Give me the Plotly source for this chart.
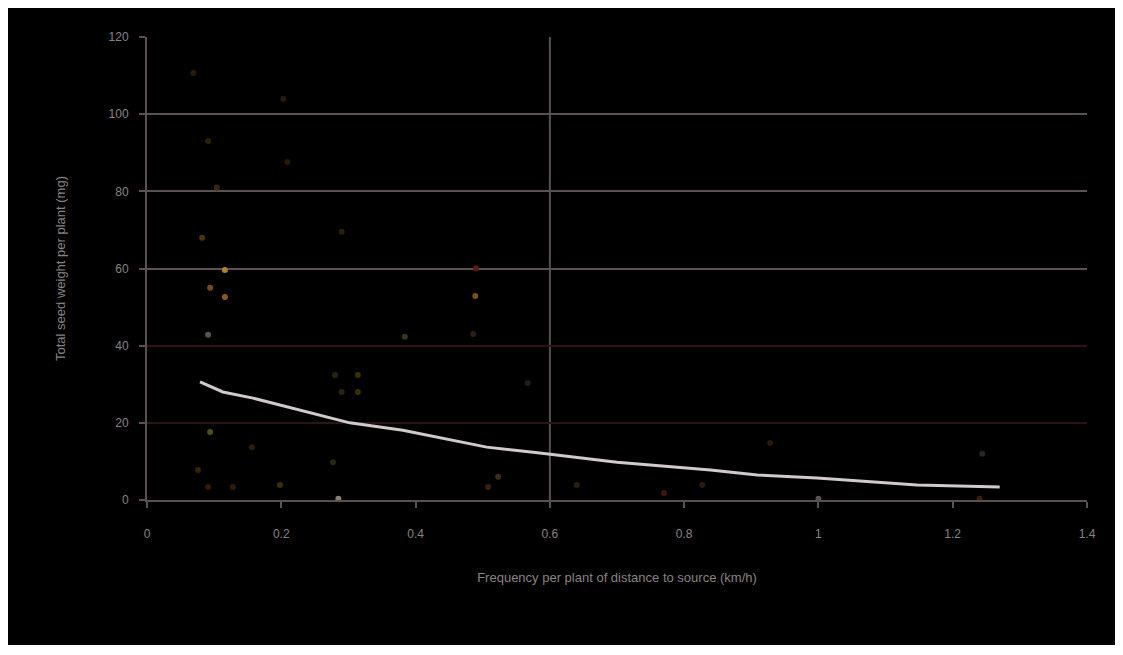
import plotly.graph_objects as go

# Fitted curve
curve_x = [0.079, 0.113, 0.158, 0.209, 0.258, 0.302, 0.381, 0.441, 0.506, 0.585,
           0.700, 0.839, 0.909, 0.998, 1.147, 1.270]
curve_y = [30.6, 28.0, 26.4, 24.1, 22.0, 20.0, 18.1, 16.0, 13.7, 12.2,
           9.8, 7.8, 6.5, 5.7, 3.9, 3.4]

# Observed points
pts_x = [0.069, 0.203, 0.091, 0.209, 0.104, 0.082, 0.290, 0.116, 0.094, 0.116,
         0.489, 0.490, 0.091, 0.384, 0.486, 0.280, 0.314, 0.290, 0.314, 0.567,
         0.094, 0.156, 0.076, 0.277, 0.198, 0.523, 0.508, 0.091, 0.128, 0.285,
         0.928, 1.244, 0.640, 0.827, 0.770, 1.000, 1.240]
pts_y = [110.7, 104.0, 93.0, 87.6, 81.0, 68.0, 69.5, 59.6, 55.0, 52.6,
         52.9, 60.0, 42.8, 42.3, 43.0, 32.4, 32.4, 28.0, 28.0, 30.3,
         17.6, 13.7, 7.8, 9.8, 3.9, 6.0, 3.4, 3.4, 3.4, 0.3,
         14.8, 12.0, 3.9, 3.9, 1.8, 0.3, 0.3]
pts_color = ["#2a1a08", "#2a1808", "#2a1e08", "#2a1808", "#3a2610", "#4a3410", "#2a1e08",
             "#b08030", "#7a4818", "#8a5820", "#7a5018", "#5a1a10", "#5a5244", "#3a3418",
             "#2a2018", "#2a2408", "#3a2e08", "#2a2408", "#3a2e08", "#2a1818",
             "#4a5018", "#2a1e08", "#3a2008", "#2a2418", "#3a2e08", "#3a2e18", "#3a2008",
             "#3a1808", "#3a1808", "#8a8070", "#2a1808", "#2a2424", "#2a1e08", "#2a1e08",
             "#3a1808", "#5a5252", "#3a2008"]

ref_x = 0.6

x_ticks = [0, 0.2, 0.4, 0.6, 0.8, 1, 1.2, 1.4]
x_labels = ["0", "0.2", "0.4", "0.6", "0.8", "1", "1.2", "1.4"]
y_ticks = [0, 20, 40, 60, 80, 100, 120]
y_labels = ["0", "20", "40", "60", "80", "100", "120"]
y_dark_grid = [20, 40]

FONT = "Liberation Sans, Arial, sans-serif"
TXT = "#8a8282"
AX = "#5a5050"

L, R, T, B = 139, 44, 29, 163
W, H = 1123, 655
PW, PH = W - L - R, H - T - B

fig = go.Figure()

# black background inside white border (drawn first)
fig.add_shape(type="rect", xref="paper", yref="paper",
              x0=-L / PW, x1=(1110 - L) / PW,
              y0=-(637 - (H - B)) / PH, y1=(H - B) / PH,
              fillcolor="#000000", line=dict(width=0), layer="below")
fig.add_vline(x=ref_x, line=dict(color=AX, width=2), layer="below")

# dummy trace so the primary y axis (gray grid, labels) is drawn
fig.add_trace(go.Scatter(x=[None], y=[None], mode="markers",
                         showlegend=False, hoverinfo="skip", yaxis="y"))
fig.add_trace(go.Scatter(
    x=pts_x, y=pts_y, mode="markers",
    marker=dict(size=6, color=pts_color, line=dict(width=0)),
    showlegend=False, hoverinfo="skip", yaxis="y2"))
fig.add_trace(go.Scatter(
    x=curve_x, y=curve_y, mode="lines",
    line=dict(color="#d0caca", width=3),
    showlegend=False, hoverinfo="skip", yaxis="y2"))

fig.update_layout(
    width=W, height=H,
    margin=dict(l=L, r=R, t=T, b=B),
    paper_bgcolor="#ffffff", plot_bgcolor="#000000",
    font=dict(family=FONT, color=TXT, size=12),
    xaxis=dict(range=[0, 1.4], tickvals=x_ticks, ticktext=x_labels,
               showgrid=False, zeroline=False,
               showline=True, linecolor=AX, linewidth=2,
               ticks="outside", ticklen=6, tickcolor=AX, tickwidth=2,
               ticklabelstandoff=16,
               tickfont=dict(size=12, color=TXT),
               title=dict(text="Frequency per plant of distance to source (km/h)",
                          font=dict(size=13, color=TXT), standoff=32)),
    yaxis=dict(range=[0, 120], tickvals=y_ticks, ticktext=y_labels,
               showgrid=True, gridcolor="#5a5252", gridwidth=2,
               zeroline=False,
               showline=True, linecolor=AX, linewidth=2,
               ticks="outside", ticklen=6, tickcolor=AX, tickwidth=2,
               ticklabelstandoff=8,
               tickfont=dict(size=12, color=TXT),
               title=dict(text="Total seed weight per plant (mg)",
                          font=dict(size=13, color=TXT), standoff=40)),
    yaxis2=dict(overlaying="y", matches="y", range=[0, 120],
                tickvals=y_dark_grid, showticklabels=False,
                showgrid=True, gridcolor="#2e1414", gridwidth=2,
                zeroline=False, showline=False, ticks=""),
)

fig.write_html("out.html")
